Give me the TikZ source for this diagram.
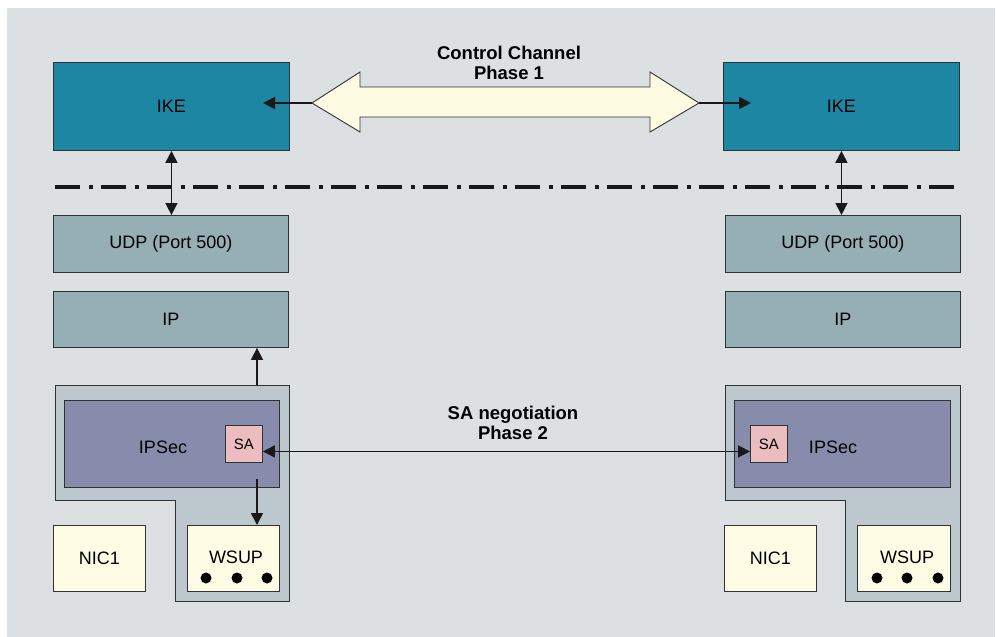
\documentclass[tikz,border=0pt]{standalone}
\usepackage{fontspec}
\setmainfont{Liberation Sans}
\usepackage{tikz}
\usetikzlibrary{arrows.meta,positioning,calc}

\definecolor{panelgray}{HTML}{DCE0E3}
\definecolor{ikeblue}{HTML}{1C86A3}
\definecolor{layergray}{HTML}{96AFB5}
\definecolor{shellgray}{HTML}{BCC8CE}
\definecolor{ipsecblue}{HTML}{888CAC}
\definecolor{sapink}{HTML}{EBBCC0}
\definecolor{devyellow}{HTML}{FEFCE5}
\definecolor{chanyellow}{HTML}{FEFBE3}
\definecolor{edge}{HTML}{2E3336}

\begin{document}
\begin{tikzpicture}[
    x=1pt, y=-1pt,
    box/.style={rectangle, draw=edge, line width=0.9pt, anchor=north west,
                inner sep=0pt, font=\fontsize{18}{20}\selectfont},
    ike/.style={box, fill=ikeblue, minimum width=236pt, minimum height=88pt},
    layer/.style={box, fill=layergray, minimum width=235pt, minimum height=57pt},
    ipsec/.style={box, fill=ipsecblue, minimum width=215pt, minimum height=87pt},
    sa/.style={box, fill=sapink, minimum width=37pt, minimum height=37pt,
               font=\fontsize{15}{15}\selectfont},
    dev/.style={box, fill=devyellow, minimum width=92pt, minimum height=66pt},
    shell/.style={draw=edge, line width=0.9pt, fill=shellgray},
    lbl/.style={font=\fontsize{18}{20}\selectfont},
    phase/.style={align=center, font=\bfseries\fontsize{18.5}{20.5}\selectfont},
    arr/.style={line width=1.6pt, black!90, arrows={-Triangle[length=12pt,width=12pt]}},
    biarr/.style={line width=1.6pt, black!90,
                  arrows={Triangle[length=12pt,width=12pt]-Triangle[length=12pt,width=12pt]}},
  ]
    \useasboundingbox (0,0) rectangle (996,637);
    \fill[panelgray] (7,8) rectangle (995,637);

    % shells round IPSec and WSUP
    \draw[shell] (55,385) -- (289,385) -- (289,601) -- (175,601) -- (175,500) -- (55,500) -- cycle;
    \draw[shell] (725,385) -- (960,385) -- (960,601) -- (845,601) -- (845,500) -- (725,500) -- cycle;

    % left stack
    \node[ike]   (ikeL)   at (53,62)  {IKE};
    \node[layer] (udpL)   at (53,215) {UDP (Port 500)};
    \node[layer, minimum height=56pt] (ipL) at (53,291) {IP};
    \node[ipsec] (ipsecL) at (64,400) {};
    \node[lbl] at (163,447) {IPSec};
    \node[sa]    (saL)    at (225,425) {SA};
    \node[dev]   (nicL)   at (53,525) {NIC1};
    \node[dev]   (wsupL)  at (187,525) {};
    \node[lbl] at (236,557) {WSUP};

    % right stack
    \node[ike]   (ikeR)   at (723,62)  {IKE};
    \node[layer] (udpR)   at (725,215) {UDP (Port 500)};
    \node[layer, minimum height=56pt] (ipR) at (725,291) {IP};
    \node[ipsec, minimum width=216pt] (ipsecR) at (734,400) {};
    \node[lbl] at (833,447) {IPSec};
    \node[sa]    (saR)    at (750,425) {SA};
    \node[dev]   (nicR)   at (724,525) {NIC1};
    \node[dev, minimum width=93pt] (wsupR) at (857,525) {};
    \node[lbl] at (907,557) {WSUP};

    \foreach \x in {206,237,267,877,907,938}
      \fill[black] (\x,578) circle (5.5pt);

    % boundary line
    \draw[line width=4pt, black!90, dash pattern=on 25pt off 9pt on 3.5pt off 8.5pt]
      (55,187) -- (957,187);

    % control channel
    \draw[draw=edge, line width=0.9pt, fill=chanyellow]
      (312,103) -- (360,72) -- (360,87) -- (650,87) -- (650,72) -- (699,103)
      -- (650,132) -- (650,117) -- (360,117) -- (360,132) -- cycle;
    \coordinate (chanL) at (312,103);
    \coordinate (chanR) at (699,103);
    \node[phase] (ctrl) at (509,63) {Control Channel\\Phase 1};
    \draw[arr] (chanL) -- (263,103);
    \draw[arr] (chanR) -- (751,103);

    \draw[biarr] (ikeL.south) -- (ikeL.south |- udpL.north);
    \draw[biarr] (ikeR.south) -- (ikeR.south |- udpR.north);

    \coordinate (upL) at (257,385);
    \coordinate (downL) at (257,479);
    \draw[arr] (upL) -- (upL |- ipL.south);
    \draw[arr] (downL) -- (downL |- wsupL.north);

    % SA negotiation
    \node[phase] (nego) at (513,423) {SA negotiation\\Phase 2};
    \draw[biarr] ([yshift=-7.5pt]saL.east) -- ([yshift=-7.5pt]saR.west);
  \end{tikzpicture}
\end{document}
